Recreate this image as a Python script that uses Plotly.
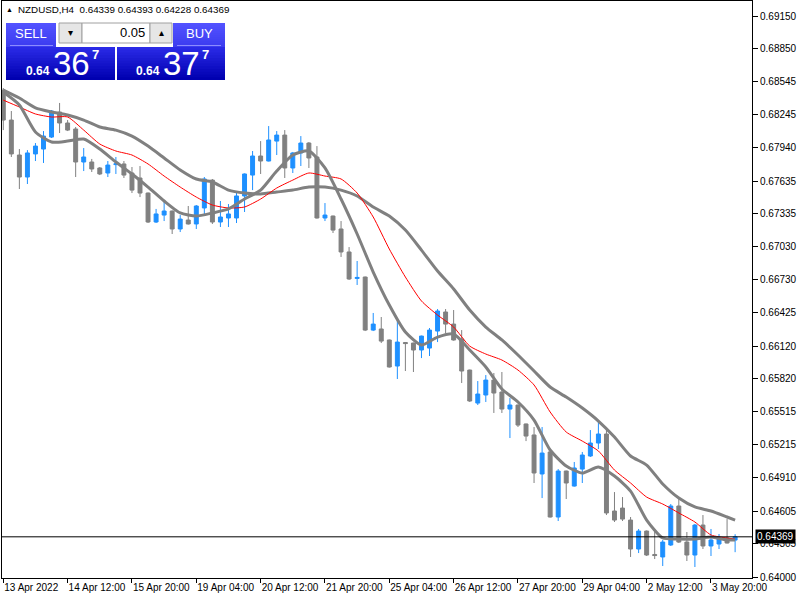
import plotly.graph_objects as go
import pandas as pd

# ---------------- data ----------------
symbol_header = "NZDUSD,H4  0.64339 0.64393 0.64228 0.64369"
bid_price = 0.64369

opens = [0.68470, 0.68195, 0.67874, 0.67672, 0.67884, 0.67929, 0.68039, 0.68269, 0.68168, 0.68113,
         0.67810, 0.67810, 0.67755, 0.67709, 0.67786, 0.67792, 0.67709, 0.67663, 0.67525, 0.67259,
         0.67323, 0.67360, 0.67195, 0.67277, 0.67241, 0.67388, 0.67644, 0.67259, 0.67296, 0.67296,
         0.67498, 0.67690, 0.67865, 0.67819, 0.68002, 0.68057, 0.67755, 0.67893, 0.67984, 0.67856,
         0.67296, 0.67314, 0.67195, 0.66984, 0.66741, 0.66754, 0.66267, 0.66277, 0.66176, 0.65937,
         0.66153, 0.66148, 0.66084, 0.66102, 0.66258, 0.66433, 0.66322, 0.66185, 0.65900, 0.65597,
         0.65671, 0.65808, 0.65698, 0.65542, 0.65579, 0.65405, 0.65304, 0.64946, 0.65148, 0.64551,
         0.64973, 0.64835, 0.64991, 0.65111, 0.65230, 0.65313, 0.64606, 0.64633, 0.64523, 0.64257,
         0.64422, 0.64207, 0.64184, 0.64294, 0.64652, 0.64321, 0.64202, 0.64477, 0.64285, 0.64303,
         0.64358, 0.64339]
highs = [0.68489, 0.68278, 0.67929, 0.67919, 0.67984, 0.68094, 0.68287, 0.68352, 0.68195, 0.68131,
         0.67938, 0.67838, 0.67764, 0.67819, 0.67856, 0.67819, 0.67764, 0.67773, 0.67530, 0.67379,
         0.67443, 0.67365, 0.67323, 0.67406, 0.67415, 0.67672, 0.67654, 0.67452, 0.67424, 0.67534,
         0.67705, 0.67911, 0.68002, 0.68140, 0.68094, 0.68103, 0.67902, 0.68048, 0.67993, 0.67956,
         0.67433, 0.67318, 0.67268, 0.67029, 0.66901, 0.66758, 0.66424, 0.66387, 0.66180, 0.66350,
         0.66157, 0.66152, 0.66216, 0.66286, 0.66460, 0.66460, 0.66451, 0.66267, 0.65904, 0.65799,
         0.65854, 0.65873, 0.65882, 0.65643, 0.65583, 0.65409, 0.65377, 0.65377, 0.65152, 0.64991,
         0.64977, 0.65056, 0.65148, 0.65349, 0.65432, 0.65349, 0.64780, 0.64734, 0.64551, 0.64441,
         0.64427, 0.64441, 0.64340, 0.64670, 0.64734, 0.64413, 0.64487, 0.64569, 0.64441, 0.64395,
         0.64532, 0.64393]
lows = [0.68103, 0.67856, 0.67562, 0.67608, 0.67819, 0.67801, 0.68030, 0.68076, 0.68094, 0.67672,
        0.67727, 0.67718, 0.67690, 0.67672, 0.67700, 0.67663, 0.67525, 0.67488, 0.67250, 0.67250,
        0.67268, 0.67149, 0.67167, 0.67236, 0.67195, 0.67323, 0.67241, 0.67213, 0.67213, 0.67250,
        0.67351, 0.67552, 0.67700, 0.67815, 0.67874, 0.67663, 0.67709, 0.67773, 0.67755, 0.67290,
        0.67268, 0.67158, 0.66938, 0.66727, 0.66681, 0.66258, 0.66258, 0.66148, 0.65923, 0.65818,
        0.65891, 0.65882, 0.66010, 0.66029, 0.66157, 0.66240, 0.66170, 0.65781, 0.65607, 0.65579,
        0.65607, 0.65506, 0.65506, 0.65276, 0.65377, 0.65248, 0.64863, 0.64725, 0.64546, 0.64514,
        0.64716, 0.64830, 0.64863, 0.65102, 0.65175, 0.64569, 0.64505, 0.64514, 0.64184, 0.64220,
        0.64193, 0.64165, 0.64101, 0.64285, 0.64312, 0.64147, 0.64092, 0.64257, 0.64193, 0.64257,
        0.64308, 0.64228]
closes = [0.68195, 0.67884, 0.67672, 0.67893, 0.67956, 0.68048, 0.68278, 0.68168, 0.68103, 0.67810,
          0.67856, 0.67746, 0.67700, 0.67782, 0.67793, 0.67690, 0.67552, 0.67525, 0.67259, 0.67333,
          0.67360, 0.67195, 0.67286, 0.67241, 0.67406, 0.67654, 0.67259, 0.67305, 0.67333, 0.67498,
          0.67700, 0.67865, 0.67819, 0.68012, 0.68057, 0.67755, 0.67893, 0.67984, 0.67847, 0.67296,
          0.67323, 0.67185, 0.66984, 0.66736, 0.66750, 0.66267, 0.66322, 0.66166, 0.65928, 0.66157,
          0.66143, 0.66084, 0.66212, 0.66267, 0.66442, 0.66322, 0.66176, 0.65891, 0.65616, 0.65680,
          0.65808, 0.65689, 0.65542, 0.65579, 0.65395, 0.65294, 0.64955, 0.65138, 0.64551, 0.64973,
          0.64863, 0.65001, 0.65120, 0.65230, 0.65313, 0.64588, 0.64523, 0.64532, 0.64257, 0.64422,
          0.64202, 0.64197, 0.64321, 0.64652, 0.64321, 0.64202, 0.64477, 0.64285, 0.64340, 0.64349,
          0.64312, 0.64369]

# moving-average lines, read every second bar (plus the last bar)
ma_fast = [0.68452, 0.68333, 0.68085, 0.67993, 0.68002, 0.68021, 0.67929, 0.67810, 0.67700, 0.67580,
           0.67452, 0.67342, 0.67314, 0.67342, 0.67379, 0.67470, 0.67552, 0.67727, 0.67874, 0.67911,
           0.67755, 0.67470, 0.67149, 0.66800, 0.66497, 0.66249, 0.66130, 0.66203, 0.66231, 0.66084,
           0.65928, 0.65726, 0.65607, 0.65441, 0.65166, 0.65019, 0.64955, 0.65010, 0.64927, 0.64789,
           0.64523, 0.64358, 0.64349, 0.64349, 0.64367, 0.64340, 0.64340]
ma_mid = [0.68378, 0.68315, 0.68251, 0.68223, 0.68223, 0.68103, 0.67975, 0.67911, 0.67874, 0.67792,
          0.67681, 0.67580, 0.67488, 0.67415, 0.67388, 0.67397, 0.67470, 0.67571, 0.67644, 0.67709,
          0.67681, 0.67654, 0.67525, 0.67305, 0.67011, 0.66754, 0.66534, 0.66405, 0.66295, 0.66120,
          0.66047, 0.65992, 0.65900, 0.65763, 0.65515, 0.65331, 0.65248, 0.65157, 0.64982, 0.64863,
          0.64734, 0.64670, 0.64588, 0.64505, 0.64386, 0.64358, 0.64349]
ma_slow = [0.68470, 0.68397, 0.68306, 0.68269, 0.68242, 0.68195, 0.68131, 0.68103, 0.68048, 0.67956,
           0.67847, 0.67737, 0.67654, 0.67626, 0.67552, 0.67525, 0.67516, 0.67534, 0.67552, 0.67580,
           0.67580, 0.67552, 0.67498, 0.67397, 0.67314, 0.67185, 0.67001, 0.66809, 0.66644, 0.66451,
           0.66295, 0.66176, 0.66038, 0.65891, 0.65744, 0.65652, 0.65551, 0.65432, 0.65285, 0.65111,
           0.65028, 0.64854, 0.64725, 0.64643, 0.64606, 0.64551, 0.64523]

y_tick_vals = [0.69150, 0.68850, 0.68545, 0.68245, 0.67940, 0.67635, 0.67335, 0.67030, 0.66730,
               0.66425, 0.66120, 0.65820, 0.65515, 0.65215, 0.64910, 0.64605, 0.64305, 0.64000]
y_tick_text = ["0.69150", "0.68850", "0.68545", "0.68245", "0.67940", "0.67635", "0.67335", "0.67030",
               "0.66730", "0.66425", "0.66120", "0.65820", "0.65515", "0.65215", "0.64910", "0.64605",
               "0.64305", "0.64000"]
x_tick_times = ["2022-04-13 04:00", "2022-04-14 12:00", "2022-04-15 20:00", "2022-04-19 04:00",
                "2022-04-20 12:00", "2022-04-21 20:00", "2022-04-25 04:00", "2022-04-26 12:00",
                "2022-04-27 20:00", "2022-04-29 04:00", "2022-05-02 12:00", "2022-05-03 20:00"]
x_tick_text = ["13 Apr 2022", "14 Apr 12:00", "15 Apr 20:00", "19 Apr 04:00", "20 Apr 12:00",
               "21 Apr 20:00", "25 Apr 04:00", "26 Apr 12:00", "27 Apr 20:00", "29 Apr 04:00",
               "2 May 12:00", "3 May 20:00"]

sell_price = ("0.64", "36", "7")
buy_price = ("0.64", "37", "7")
lot_size = "0.05"

# H4 bar times (trading days only)
bar_times = []
t = pd.Timestamp("2022-04-13 04:00")
while len(bar_times) < len(opens):
    if t.weekday() < 5:
        bar_times.append(t.strftime("%Y-%m-%d %H:%M"))
    t += pd.Timedelta(hours=4)
ma_times = bar_times[::2] + [bar_times[-1]]

# ---------------- figure ----------------
W, H = 800, 600
ML, MR, MT, MB = 2, 48, 1, 22
PW, PH = W - ML - MR, H - MT - MB


def px(x):
    return (x - ML) / PW


def py(y):
    return 1 - (y - MT) / PH


FONT = "Liberation Sans, Arial, sans-serif"
BLUE = "#1E90FF"
GRAY = "#808080"

fig = go.Figure()
fig.add_trace(go.Candlestick(
    x=bar_times, open=opens, high=highs, low=lows, close=closes,
    increasing=dict(line=dict(color=BLUE, width=1), fillcolor=BLUE),
    decreasing=dict(line=dict(color=GRAY, width=1), fillcolor=GRAY),
    whiskerwidth=0, showlegend=False, hoverinfo="skip"))

for vals, col, w in [(ma_slow, GRAY, 3), (ma_mid, "#FF0000", 1), (ma_fast, GRAY, 3)]:
    fig.add_trace(go.Scatter(x=ma_times, y=vals, mode="lines",
                             line=dict(color=col, width=w, shape="spline", smoothing=0.6),
                             showlegend=False, hoverinfo="skip"))

shapes = []
# bid line
shapes.append(dict(type="line", xref="paper", x0=0, x1=1, yref="y", y0=bid_price, y1=bid_price,
                   line=dict(color="black", width=1), layer="above"))


def grad_rect(x0, y0, x1, y1, c_top, c_bot, n=12):
    def hx(c):
        return tuple(int(c[i:i + 2], 16) for i in (1, 3, 5))
    a, b = hx(c_top), hx(c_bot)
    for i in range(n):
        f = i / (n - 1)
        c = tuple(round(a[j] + (b[j] - a[j]) * f) for j in range(3))
        ya = y0 + (y1 - y0) * i / n
        yb = min(y1, y0 + (y1 - y0) * (i + 1) / n + 1.5)
        shapes.append(dict(type="rect", xref="paper", yref="paper",
                           x0=px(x0), x1=px(x1), y0=py(ya), y1=py(yb),
                           fillcolor="rgb(%d,%d,%d)" % c, line=dict(width=0), layer="above"))


def rect(x0, y0, x1, y1, fill, line_col=None):
    shapes.append(dict(type="rect", xref="paper", yref="paper",
                       x0=px(x0), x1=px(x1), y0=py(y0), y1=py(y1), fillcolor=fill,
                       line=dict(color=line_col or fill, width=1 if line_col else 0), layer="above"))


# one-click trading panel
grad_rect(6, 23, 56, 47, "#5252FF", "#3C3CF0")
grad_rect(173, 23, 225, 47, "#5252FF", "#3C3CF0")
grad_rect(6, 47, 115, 80, "#2A2AE6", "#0000B0")
grad_rect(117, 47, 225, 80, "#2A2AE6", "#0000B0")
rect(10, 45, 53, 46, "#8C8CFF")
rect(177, 45, 221, 46, "#8C8CFF")
rect(59, 23, 82, 43, "#E6E6E6", "#A0A0A0")
rect(82, 23, 150, 43, "#FFFFFF", "#A0A0A0")
rect(150, 23, 172, 43, "#E6E6E6", "#A0A0A0")

ann = []


def text(x, y, s, size, color="white", xanchor="center", bold=False, yanchor="middle"):
    ann.append(dict(xref="paper", yref="paper", x=px(x), y=py(y), text=("<b>%s</b>" % s) if bold else s,
                    showarrow=False, xanchor=xanchor, yanchor=yanchor, borderpad=0,
                    font=dict(family=FONT, size=size, color=color)))


text(31, 34, "SELL", 13)
text(199, 34, "BUY", 13)
text(146, 33, lot_size, 13, color="black", xanchor="right")
text(70, 33, "▾", 10, color="black")
text(161, 33, "▴", 10, color="black")
for x0, p in [(25, sell_price), (135, buy_price)]:
    text(x0, 71, p[0], 12, xanchor="left", bold=True)
    text(x0 + 27, 64, p[1], 33, xanchor="left")
    text(x0 + 66, 55, p[2], 13, xanchor="left", bold=True)

# header
text(5, 10, "▲", 7, color="black", xanchor="left")
text(17, 10, symbol_header, 9.8, color="black", xanchor="left")

# bid price label
ann.append(dict(xref="paper", yref="y", x=1.004, y=bid_price, text="0.64369", showarrow=False,
                xanchor="left", yanchor="middle", bgcolor="black", borderpad=1,
                font=dict(family=FONT, size=10, color="white")))

fig.update_layout(
    width=W, height=H, margin=dict(l=ML, r=MR, t=MT, b=MB, autoexpand=False),
    paper_bgcolor="white", plot_bgcolor="white",
    shapes=shapes, annotations=ann,
    xaxis=dict(type="category", range=[-0.16, 93.1], rangeslider=dict(visible=False),
               automargin=False, tickangle=0,
               showgrid=False, zeroline=False, showline=True, linecolor="black", linewidth=1, mirror=True,
               ticks="outside", ticklen=4, tickcolor="black",
               tickvals=x_tick_times, ticktext=x_tick_text, ticklabelposition="outside right",
               tickfont=dict(family=FONT, size=10, color="black")),
    yaxis=dict(side="right", range=[0.63991, 0.69288], showgrid=False, zeroline=False, automargin=False,
               showline=True, linecolor="black", linewidth=1, mirror=True,
               ticks="outside", ticklen=5, tickcolor="black",
               tickvals=y_tick_vals, ticktext=y_tick_text,
               tickfont=dict(family=FONT, size=10, color="black")),
)

fig.write_html("out.html", config={"displayModeBar": False},
               post_script="document.body.style.margin='0';document.body.style.overflow='hidden';")
